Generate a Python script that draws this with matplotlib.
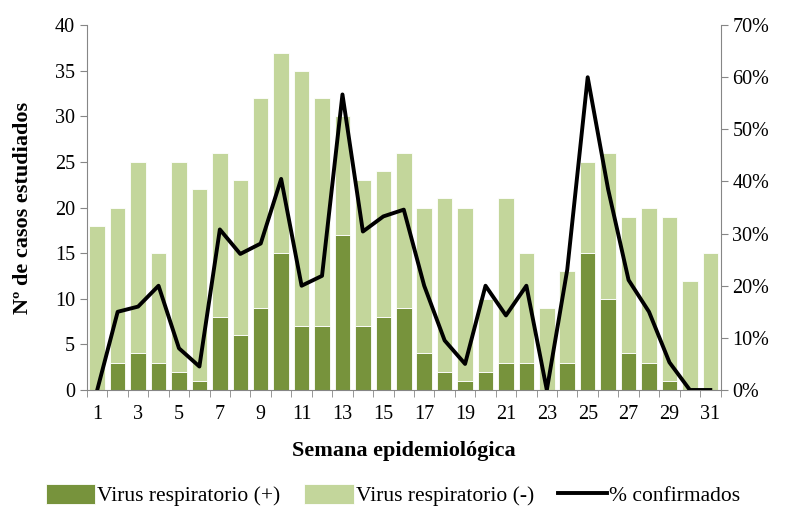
import numpy as np
import matplotlib.pyplot as plt
from matplotlib.ticker import FuncFormatter

plt.rcParams['font.family'] = ['Liberation Serif', 'DejaVu Serif']

semanas = list(range(1, 32))
positivos = [0, 3, 4, 3, 2, 1, 8, 6, 9, 15, 7, 7, 17, 7, 8, 9, 4, 2, 1, 2, 3, 3, 0, 3, 15, 10, 4, 3, 1, 0, 0]
totales = [18, 20, 25, 15, 25, 22, 26, 23, 32, 37, 35, 32, 30, 23, 24, 26, 20, 21, 20, 10, 21, 15, 9, 13, 25, 26, 19, 20, 19, 12, 15]
pct_confirmados = [0, 15.0, 16.0, 20.0, 8.0, 4.5, 30.8, 26.1, 28.1, 40.5, 20.0, 21.9, 56.7, 30.4, 33.3, 34.6,
                   20.0, 9.5, 5.0, 20.0, 14.3, 20.0, 0, 23.1, 60.0, 38.5, 21.1, 15.0, 5.3, 0, 0]

negativos = [t - p for t, p in zip(totales, positivos)]

verde_osc = '#77933C'
verde_cla = '#C3D69B'
gris = '#868686'

fig = plt.figure(figsize=(7.86, 5.13), dpi=100)
ax = fig.add_axes([0.1107, 0.2398, 0.806, 0.7112])
x = np.array(semanas)
b1 = ax.bar(x, positivos, width=0.76, color=verde_osc, edgecolor='white', linewidth=0.6,
            label='Virus respiratorio (+)')
b2 = ax.bar(x, negativos, width=0.76, bottom=positivos, color=verde_cla, edgecolor='white', linewidth=0.6,
            label='Virus respiratorio (-)')
ax.set_xlim(0.5, 31.5)
ax.set_ylim(0, 40)
ax.set_yticks(range(0, 41, 5))
ax.set_xticks(semanas[::2])
ax.set_xticks(np.arange(0.5, 32, 1), minor=True)
ax.tick_params(axis='x', which='major', length=0, labelsize=14.5, pad=11)
ax.tick_params(axis='x', which='minor', length=5, color=gris, direction='out')
ax.tick_params(axis='y', length=5, color=gris, labelsize=14.5, direction='out')
for s in ['top', 'right']:
    ax.spines[s].set_visible(False)
ax.spines['left'].set_color(gris)
ax.spines['bottom'].set_color(gris)
ax.set_ylabel('Nº de casos estudiados', fontsize=16, fontweight='bold', labelpad=16)
ax.set_xlabel('Semana epidemiológica', fontsize=16, fontweight='bold', labelpad=12)

ax2 = ax.twinx()
l1, = ax2.plot(x, pct_confirmados, color='black', linewidth=2.8, label='% confirmados')
ax2.set_ylim(0, 70)
ax2.set_yticks(range(0, 71, 10))
ax2.yaxis.set_major_formatter(FuncFormatter(lambda v, p: '%d%%' % v))
ax2.tick_params(axis='y', length=5, color=gris, labelsize=14.5, direction='out')
for s in ['top', 'left', 'bottom']:
    ax2.spines[s].set_visible(False)
ax2.spines['right'].set_color(gris)

fig.legend(handles=[b1, b2, l1], loc='lower center', bbox_to_anchor=(0.5, -0.025), ncol=3,
           frameon=False, fontsize=15.5, handlelength=2.3, handleheight=1.0,
           handletextpad=0.1, columnspacing=1.1)

plt.savefig('out.png', dpi=100)
